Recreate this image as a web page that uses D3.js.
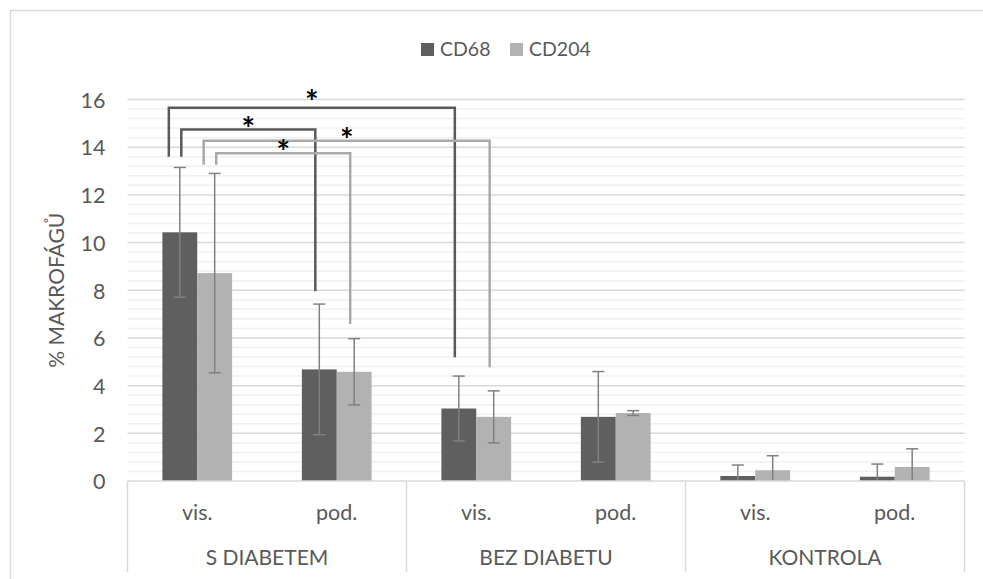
<!DOCTYPE html>
<html>
<head>
<meta charset="utf-8">
<script src="https://cdn.jsdelivr.net/npm/d3@7"></script>
<style>
  body { margin: 0; background: #fff; }
  text { font-family: Lato, "Open Sans", sans-serif; fill: #595959; }
</style>
</head>
<body>
<svg id="chart" width="983" height="579"></svg>
<script>
// data
const groups = ["S DIABETEM", "BEZ DIABETU", "KONTROLA"];
const sites = ["vis.", "pod."];
const series = ["CD68", "CD204"];
const cd68 = [10.43, 4.68, 3.04, 2.69, 0.21, 0.18];
const cd204 = [8.72, 4.58, 2.69, 2.85, 0.45, 0.59];
const cd68Err = [2.72, 2.74, 1.36, 1.9, 0.46, 0.53];
const cd204Err = [4.18, 1.39, 1.09, 0.1, 0.61, 0.76];
const yTicks = [0, 2, 4, 6, 8, 10, 12, 14, 16];
// significance brackets: from/to = [column, series], levels in % units
const brackets = [
  {from: [0, 0], to: [2, 0], top: 15.65, fromLow: 13.6, toLow: 5.19, outer: true},
  {from: [0, 0], to: [1, 0], top: 14.74, fromLow: 13.6, toLow: 7.96, outer: false},
  {from: [0, 1], to: [2, 1], top: 14.27, fromLow: 13.26, toLow: 4.77, outer: true},
  {from: [0, 1], to: [1, 1], top: 13.75, fromLow: 13.26, toLow: 6.58, outer: false}
];

const colors = ["#5f5f5f", "#b2b2b2"];
const bracketColors = ["#595959", "#a9a9a9"];

const plotLeft = 127.5, plotRight = 964.5, plotTop = 99.5, plotBottom = 481;

const svg = d3.select("#chart");

// frame
svg.append("rect")
    .attr("x", 10.5).attr("y", 10.5)
    .attr("width", 1000).attr("height", 620)
    .attr("fill", "none")
    .attr("stroke", "#d9d9d9")
    .attr("stroke-width", 1.5);

const columns = [];
groups.forEach((g) => sites.forEach((s) => columns.push(g + "|" + s)));

const values = [cd68, cd204];
const errs = [cd68Err, cd204Err];

const x0 = d3.scaleBand()
    .domain(columns)
    .range([plotLeft, plotRight]);

const x1 = d3.scaleBand()
    .domain(series)
    .range([x0.bandwidth() / 4, x0.bandwidth() * 3 / 4]);

const y = d3.scaleLinear()
    .domain([0, 16])
    .range([plotBottom, plotTop]);

// minor + major grid
const minor = d3.range(0, 16.01, 0.4).filter((v) => Math.abs(v / 2 - Math.round(v / 2)) > 1e-6);
svg.append("g").selectAll("line")
    .data(minor)
  .enter().append("line")
    .attr("x1", plotLeft).attr("x2", plotRight)
    .attr("y1", (d) => y(d)).attr("y2", (d) => y(d))
    .attr("stroke", "#f0f0f0")
    .attr("stroke-width", 1.5);

svg.append("g").selectAll("line")
    .data(yTicks.filter((d) => d > 0))
  .enter().append("line")
    .attr("x1", plotLeft).attr("x2", plotRight)
    .attr("y1", (d) => y(d)).attr("y2", (d) => y(d))
    .attr("stroke", "#d9d9d9")
    .attr("stroke-width", 1.5);

// y tick labels
const yAxis = d3.axisLeft(y).tickValues(yTicks).tickSize(0).tickPadding(22);
const yg = svg.append("g")
    .attr("transform", `translate(${ plotLeft },0)`)
    .call(yAxis);
yg.select(".domain").remove();
yg.selectAll("text")
    .attr("font-size", 21.5)
    .attr("font-family", "Lato")
    .attr("fill", "#595959")
    .attr("dy", "0.36em");

// y title
svg.append("text")
    .attr("transform", `translate(64,${ (plotTop + plotBottom) / 2 }) rotate(-90)`)
    .attr("text-anchor", "middle")
    .attr("font-size", 21)
    .text("% MAKROFÁGŮ");

// bars
series.forEach((s, si) => {
  svg.append("g").selectAll("rect")
      .data(columns)
    .enter().append("rect")
      .attr("x", (d) => x0(d) + x1(s))
      .attr("y", (d, i) => y(values[si][i]))
      .attr("width", x1.bandwidth())
      .attr("height", (d, i) => y(0) - y(values[si][i]))
      .attr("fill", colors[si]);
});

// error bars
series.forEach((s, si) => {
  const g = svg.append("g")
      .attr("stroke", "#808080")
      .attr("stroke-width", 1.5);
  columns.forEach((c, i) => {
    const cx = x0(c) + x1(s) + x1.bandwidth() / 2;
    const hi = values[si][i] + errs[si][i];
    const lo = Math.max(0, values[si][i] - errs[si][i]);
    g.append("line")
        .attr("x1", cx).attr("x2", cx)
        .attr("y1", y(hi)).attr("y2", y(lo));
    g.append("line")
        .attr("x1", cx - 6).attr("x2", cx + 6)
        .attr("y1", y(hi)).attr("y2", y(hi));
    if (values[si][i] - errs[si][i] > 0) {
      g.append("line")
          .attr("x1", cx - 6).attr("x2", cx + 6)
          .attr("y1", y(lo)).attr("y2", y(lo));
    }
  });
});

// category axis
const axisG = svg.append("g")
    .attr("stroke", "#d9d9d9")
    .attr("stroke-width", 1.5);
axisG.append("line")
    .attr("x1", plotLeft).attr("x2", plotRight)
    .attr("y1", plotBottom).attr("y2", plotBottom);
const seps = groups.map((g) => x0(g + "|" + sites[0])).concat([plotRight]);
axisG.selectAll(".sep")
    .data(seps)
  .enter().append("line")
    .attr("x1", (d) => d).attr("x2", (d) => d)
    .attr("y1", plotBottom).attr("y2", 572);

svg.append("g").selectAll("text")
    .data(columns)
  .enter().append("text")
    .attr("x", (d) => x0(d) + x0.bandwidth() / 2)
    .attr("y", 520)
    .attr("text-anchor", "middle")
    .attr("font-size", 21.5)
    .text((d) => d.split("|")[1]);

svg.append("g").selectAll("text")
    .data(groups)
  .enter().append("text")
    .attr("x", (d) => x0(d + "|" + sites[0]) + x0.bandwidth())
    .attr("y", 565)
    .attr("text-anchor", "middle")
    .attr("font-size", 21)
    .text((d) => d);

// significance brackets
const barCenter = (p) => x0(columns[p[0]]) + x1(series[p[1]]) + x1.bandwidth() / 2;
brackets.forEach((b, bi) => {
  const xa = barCenter(b.from) + (b.outer ? -11 : 1.5);
  const xb = barCenter(b.to) - 4;
  const col = bracketColors[b.from[1]];
  svg.append("path")
      .attr("d", `M${ xa },${ y(b.fromLow) }V${ y(b.top) }H${ xb }V${ y(b.toLow) }`)
      .attr("fill", "none")
      .attr("stroke", col)
      .attr("stroke-width", 2.5);
  svg.append("text")
      .attr("x", (xa + xb) / 2)
      .attr("y", y(b.top) + (bi === 0 ? 6 : 11))
      .attr("text-anchor", "middle")
      .attr("font-size", 32)
      .attr("font-weight", "bold")
      .style("fill", "#000")
      .text("*");
});

// legend
const legend = svg.append("g");
const legendX = [421, 510];
series.forEach((s, si) => {
  legend.append("rect")
      .attr("x", legendX[si]).attr("y", 43)
      .attr("width", 13).attr("height", 13)
      .attr("fill", colors[si]);
  legend.append("text")
      .attr("x", legendX[si] + 19)
      .attr("y", 55.5)
      .attr("font-size", 19.5)
      .text(s);
});
</script>
</body>
</html>
